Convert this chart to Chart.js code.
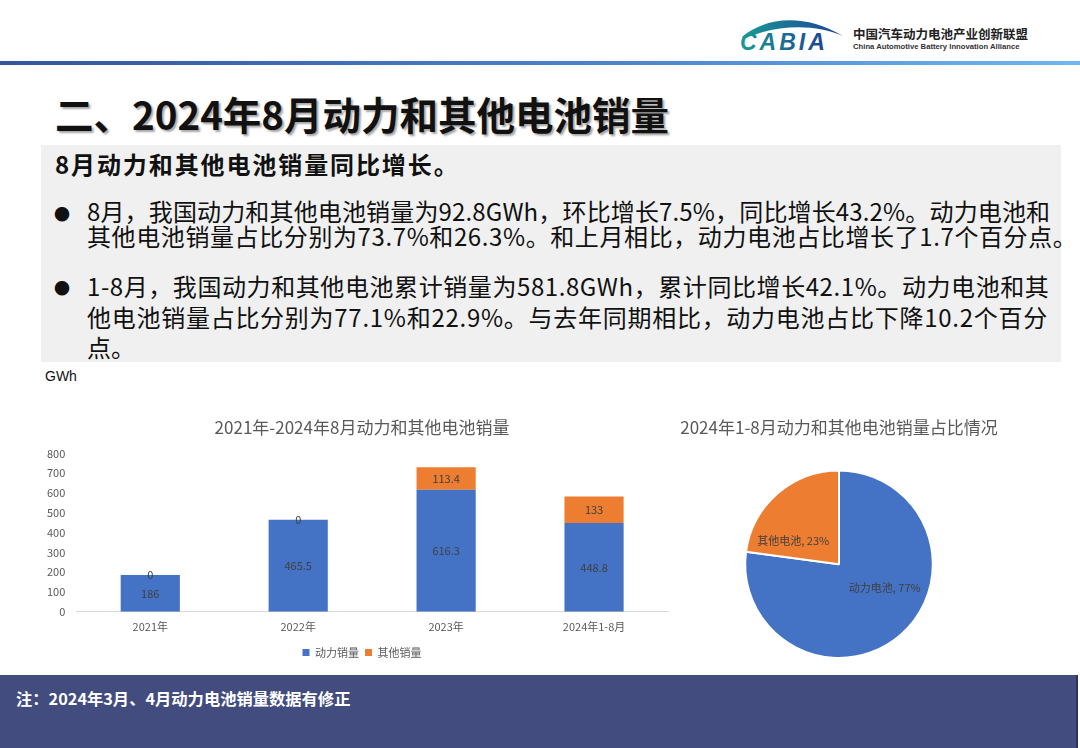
<!DOCTYPE html>
<html>
<head>
<meta charset="utf-8">
<script src="https://cdn.jsdelivr.net/npm/chart.js@4"></script>
<style>
  body { margin: 0; width: 1080px; height: 748px; background: #fff; position: relative; overflow: hidden;
         font-family: "Noto Sans CJK SC", "Noto Sans", sans-serif; }
  .abs { position: absolute; white-space: nowrap; }
  #topline { left: 0; top: 61px; width: 1080px; height: 4px; background: linear-gradient(to right, #34549f, #4f86cf 60%, #6fb6f3); }
  #title { left: 55px; top: 85px; font-size: 38.5px; font-weight: bold; color: #111; text-shadow: 2px 2px 2px rgba(0,0,0,0.35); }
  #box { left: 41px; top: 145px; width: 1020px; height: 217px; background: #f0f0f0; }
  .txt { font-size: 24px; color: #111; line-height: 1; }
  .dot { font-size: 16px; color: #111; }
  #gwh { left: 45px; top: 368px; font-family: "Liberation Sans", sans-serif; font-size: 14px; color: #111; }
  #footer { left: 0; top: 675px; width: 1076px; height: 73px; background: #434c7e; border-right: 2px solid #2f365c; }
  #note { left: 16px; top: 686px; font-size: 16.3px; font-weight: bold; color: #fff; }
  canvas { position: absolute; }
</style>
</head>
<body>
<svg class="abs" style="left:736px;top:14px" width="300" height="42">
  <defs>
    <linearGradient id="lg" x1="0" x2="1" y1="0" y2="0">
      <stop offset="0" stop-color="#179b93"/>
      <stop offset="1" stop-color="#1f3f9a"/>
    </linearGradient>
  </defs>
  <path d="M6 23 C 30 3, 68 -1, 107 22 C 80 10, 40 10, 8 25 Z" fill="url(#lg)"/>
  <text x="4" y="36" font-family="Liberation Sans" font-style="italic" font-weight="bold" font-size="23" fill="url(#lg)" letter-spacing="3">CABIA</text>
  <text x="117" y="25" font-family="Noto Sans CJK SC" font-weight="bold" font-size="12.5" fill="#222">中国汽车动力电池产业创新联盟</text>
  <text x="117" y="35" font-family="Liberation Sans" font-weight="bold" font-size="7.7" fill="#333">China Automotive Battery Innovation Alliance</text>
</svg>
<div id="topline" class="abs"></div>
<div id="title" class="abs">二、2024年8月动力和其他电池销量</div>
<div id="box" class="abs"></div>
<div class="abs txt" style="left:55px;top:152px;font-weight:bold;letter-spacing:1.9px">8月动力和其他电池销量同比增长。</div>
<div class="abs dot" style="left:54px;top:201px">●</div>
<div class="abs txt" style="left:87px;top:199px;letter-spacing:0.15px">8月，我国动力和其他电池销量为92.8GWh，环比增长7.5%，同比增长43.2%。动力电池和</div>
<div class="abs txt" style="left:87px;top:224px;letter-spacing:0.6px">其他电池销量占比分别为73.7%和26.3%。和上月相比，动力电池占比增长了1.7个百分点。</div>
<div class="abs dot" style="left:54px;top:275px">●</div>
<div class="abs txt" style="left:87px;top:274px;letter-spacing:0.58px">1-8月，我国动力和其他电池累计销量为581.8GWh，累计同比增长42.1%。动力电池和其</div>
<div class="abs txt" style="left:87px;top:305px;letter-spacing:0.73px">他电池销量占比分别为77.1%和22.9%。与去年同期相比，动力电池占比下降10.2个百分</div>
<div class="abs txt" style="left:87px;top:335px">点。</div>
<div id="gwh" class="abs">GWh</div>

<canvas id="bar" width="666" height="263" style="left:30px;top:405px"></canvas>
<canvas id="pie" width="340" height="263" style="left:669px;top:405px"></canvas>

<div id="footer" class="abs"></div>
<div id="note" class="abs">注：2024年3月、4月动力电池销量数据有修正</div>

<script>
// data
const years = ["2021年", "2022年", "2023年", "2024年1-8月"];
const powerSales = [186, 465.5, 616.3, 448.8];
const otherSales = [0, 0, 113.4, 133];
const yTicks = [0, 100, 200, 300, 400, 500, 600, 700, 800];

const pieNames = ["动力电池", "其他电池"];
const pieShare = [77.1, 22.9];

const BLUE = "#4472c4";
const ORANGE = "#ed7d31";
const FONT = '"Noto Sans CJK SC", sans-serif';

// labels in the middle of every stacked segment
const barLabels = {
  id: "barLabels",
  afterDatasetsDraw(chart) {
    const ctx = chart.ctx;
    ctx.save();
    ctx.font = "11px " + FONT;
    ctx.fillStyle = "#404040";
    ctx.textAlign = "center";
    ctx.textBaseline = "middle";
    chart.data.datasets.forEach((ds, i) => {
      chart.getDatasetMeta(i).data.forEach((bar, j) => {
        ctx.fillText(String(ds.data[j]), bar.x, (bar.y + bar.base) / 2);
      });
    });
    ctx.restore();
  }
};

// "name, pct%" labels inside slices
const pieLabels = {
  id: "pieLabels",
  afterDatasetsDraw(chart) {
    const ctx = chart.ctx;
    ctx.save();
    ctx.font = "11px " + FONT;
    ctx.fillStyle = "#404040";
    ctx.textAlign = "center";
    ctx.textBaseline = "middle";
    chart.getDatasetMeta(0).data.forEach((arc, i) => {
      const mid = (arc.startAngle + arc.endAngle) / 2 - 0.37;
      const r = arc.outerRadius * 0.55;
      const txt = chart.data.labels[i] + ", " + Math.round(chart.data.datasets[0].data[i]) + "%";
      ctx.fillText(txt, arc.x + Math.cos(mid) * r, arc.y + Math.sin(mid) * r);
    });
    ctx.restore();
  }
};

new Chart(document.getElementById("bar"), {
  type: "bar",
  data: {
    labels: years,
    datasets: [
      { label: "动力销量", data: powerSales, backgroundColor: BLUE, borderWidth: 0 },
      { label: "其他销量", data: otherSales, backgroundColor: ORANGE, borderWidth: 0 }
    ]
  },
  options: {
    responsive: false,
    animation: false,
    layout: { padding: { left: 6, right: 8, bottom: 0 } },
    barPercentage: 0.4,
    categoryPercentage: 1,
    scales: {
      x: {
        stacked: true,
        grid: { display: false, drawTicks: false },
        border: { display: true, color: "#d9d9d9" },
        ticks: { color: "#595959", font: { family: FONT, size: 11 }, padding: 8 }
      },
      y: {
        stacked: true,
        min: 0, max: 800,
        afterBuildTicks: (axis) => { axis.ticks = yTicks.map(v => ({ value: v })); },
        grid: { display: false, drawTicks: false },
        border: { display: false },
        ticks: { color: "#595959", font: { family: FONT, size: 11 }, padding: 11 }
      },
      // empty spacer on the right so title and legend sit where Excel put them
      y2: {
        type: "linear",
        position: "right",
        grid: { display: false, drawTicks: false },
        border: { display: false },
        ticks: { display: false },
        afterFit: (axis) => { axis.width = 20; }
      }
    },
    plugins: {
      title: { display: true, text: "2021年-2024年8月动力和其他电池销量", color: "#595959",
               font: { family: FONT, size: 17, weight: "normal" }, padding: { top: 12, bottom: 16 } },
      legend: { position: "bottom",
                labels: { boxWidth: 7, boxHeight: 7, padding: 6, color: "#595959", font: { family: FONT, size: 11 } } },
      tooltip: { enabled: false }
    }
  },
  plugins: [barLabels]
});

new Chart(document.getElementById("pie"), {
  type: "pie",
  data: {
    labels: pieNames,
    datasets: [{ data: pieShare, backgroundColor: [BLUE, ORANGE], borderColor: "#fff", borderWidth: 2, hoverOffset: 0 }]
  },
  options: {
    responsive: false,
    animation: false,
    layout: { padding: { bottom: 9 } },
    plugins: {
      title: { display: true, text: "2024年1-8月动力和其他电池销量占比情况", color: "#595959",
               font: { family: FONT, size: 17, weight: "normal" }, padding: { top: 12, bottom: 32 } },
      legend: { display: false },
      tooltip: { enabled: false }
    }
  },
  plugins: [pieLabels]
});
</script>
</body>
</html>
